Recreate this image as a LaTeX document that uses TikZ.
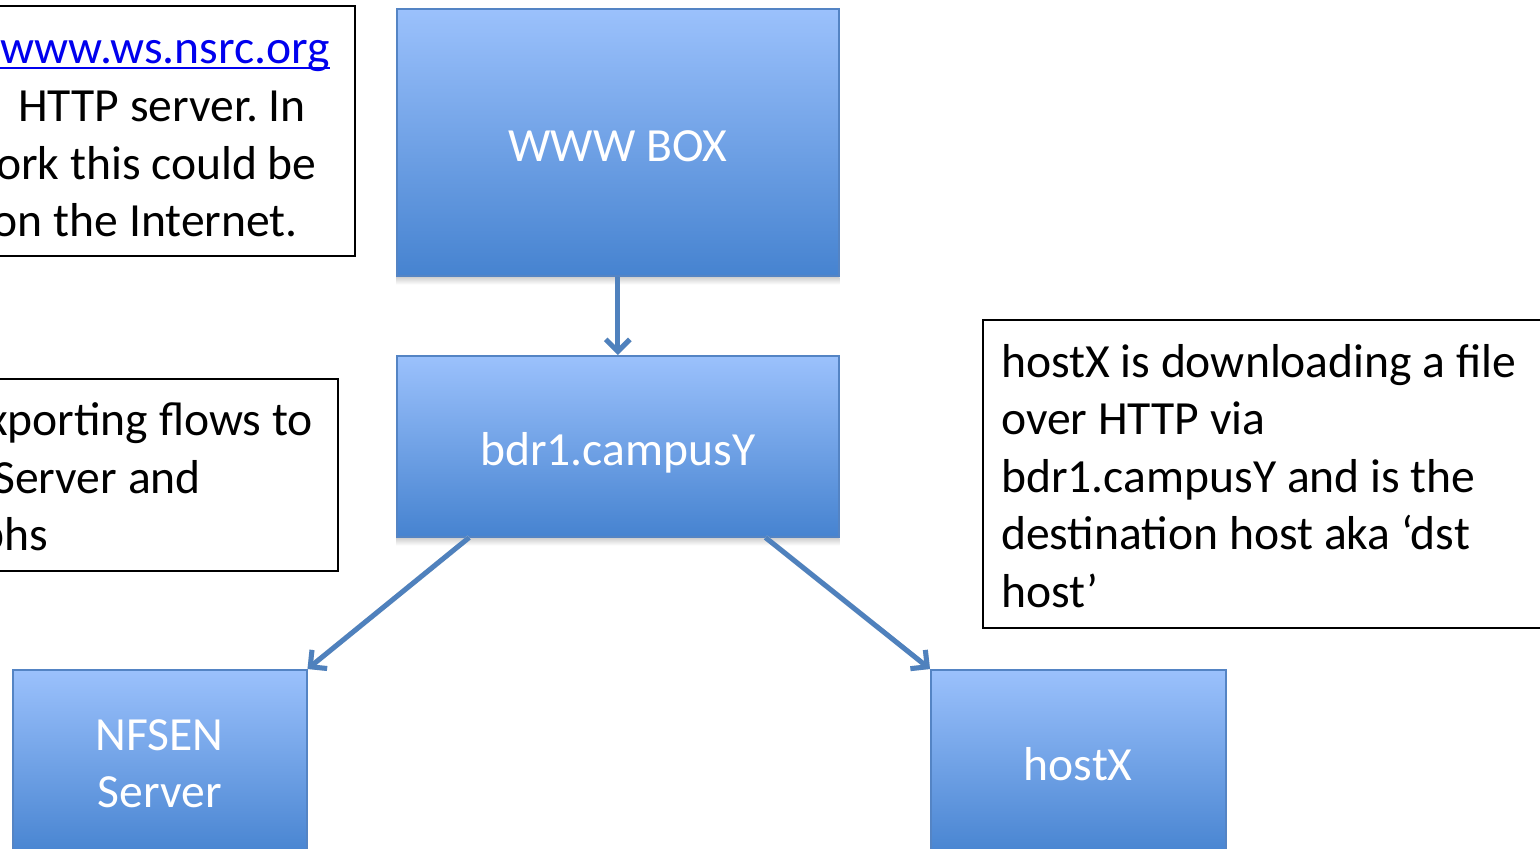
\documentclass[tikz,border=0pt]{standalone}
\usepackage{fontspec}
\setmainfont{Carlito}
\usetikzlibrary{arrows.meta,calc}
\definecolor{boxtop}{RGB}{155,193,252}
\definecolor{boxbot}{RGB}{70,131,208}
\definecolor{boxline}{RGB}{84,132,196}
\definecolor{linkcol}{RGB}{0,0,238}
\definecolor{conncol}{RGB}{79,129,189}
\newcommand{\bigtext}{\fontsize{47.6}{57.5}\selectfont}
\frenchspacing
\begin{document}
\begin{tikzpicture}[x=1pt,y=-1pt,
  device/.style={draw=boxline, line width=1.5pt, top color=boxtop,
    bottom color=boxbot, text=white, inner sep=0pt, anchor=north west,
    align=center, font=\bigtext},
  oneline/.style={text height=38pt, text depth=0pt},
  note/.style={draw=black, line width=1.5pt, fill=white, inner sep=0pt,
    anchor=north west},
  notetext/.style={inner sep=0pt, font=\bigtext, text=black},
  conn/.style={draw=conncol, line width=5pt,
    -{Straight Barb[length=12pt,width=24pt]}},
  connshadow/.style={draw=black!12, line width=5pt, yshift=-3pt,
    -{Straight Barb[length=12pt,width=24pt]}},
  boxshadow/.style={top color=black!18, bottom color=white, draw=none},
]
\useasboundingbox (0,0) rectangle (1540,849);
\clip (0,0) rectangle (1540,849);
\fill[white] (0,0) rectangle (1540,849);

% note frames
\node[note, minimum width=360pt, minimum height=250pt] (noteA) at (-6,5) {};
\node[note, minimum width=343pt, minimum height=192pt] (noteB) at (-6,378) {};
\node[note, minimum width=568pt, minimum height=308pt] (noteC) at (982,319) {};

% note texts
\node[notetext, anchor=base east, text=linkcol] (a1) at (330,63) {www.ws.nsrc.org};
\draw[linkcol, line width=2pt] ([yshift=-5pt]a1.base west) -- ([yshift=-5pt]a1.base east);
\node[notetext, anchor=base east] (a2) at (306,121) {HTTP server. In};
\node[notetext, anchor=base east] (a3) at (317,179) {ork this could be};
\node[notetext, anchor=base east] (a4) at (298,236) {on the Internet.};

\node[notetext, anchor=base east] (b1) at (313,435) {xporting flows to};
\node[notetext, anchor=base east] (b2) at (201,493) {Server and};
\node[notetext, anchor=base east] (b3) at (48,550) {phs};

\node[notetext, anchor=north west, align=left] (c1) at (1001,344)
  {hostX is downloading a file\\over HTTP via\\bdr1.campusY and is the\\destination host aka ‘dst\\host’};

% devices
\node[device, oneline, minimum width=442pt, minimum height=267pt] (www) at (396,8) {WWW BOX};
\node[device, oneline, minimum width=442pt, minimum height=181pt] (bdr) at (396,355) {bdr1.campusY};
\node[device, minimum width=294pt, minimum height=188pt] (nfsen) at (12,669) {NFSEN\\Server};
\node[device, minimum width=295pt, minimum height=188pt] (hostx) at (930,669) {hostX};

% soft shadows under devices
\foreach \b in {www,bdr}
  \shade[boxshadow] ([yshift=-0.8pt]\b.south west) rectangle ([yshift=-8pt]\b.south east);

% connectors
\coordinate (bl) at ($(bdr.south west)!0.165!(bdr.south east)$);
\coordinate (br) at ($(bdr.south west)!0.833!(bdr.south east)$);
\draw[connshadow] (www.south) -- (bdr.north);
\draw[connshadow] (bl) -- (nfsen.north east);
\draw[connshadow] (br) -- (hostx.north west);
\draw[conn] (www.south) -- (bdr.north);
\draw[conn] (bl) -- (nfsen.north east);
\draw[conn] (br) -- (hostx.north west);
\end{tikzpicture}
\end{document}
